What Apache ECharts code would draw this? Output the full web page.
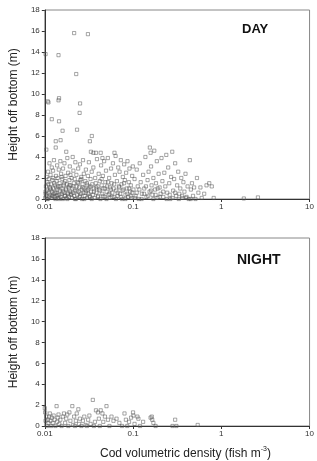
<!DOCTYPE html>
<html>
<head>
<meta charset="utf-8">
<script src="https://cdn.jsdelivr.net/npm/echarts@6/dist/echarts.min.js"></script>
<style>
  html, body { margin: 0; padding: 0; background: #fff; }
  #chart { width: 317px; height: 461px; }
</style>
</head>
<body>
<div id="chart"></div>
<script>
// density (fish m^-3), height off bottom (m)
const dayPoints = [
  [0.0102,13.8],[0.0108,9.3],[0.011,9.2],[0.0143,13.7],[0.0145,9.6],[0.0143,9.4],
  [0.0215,15.8],[0.0308,15.7],[0.0227,11.9],[0.0251,9.1],[0.0248,8.2],[0.012,7.6],
  [0.0145,7.4],[0.0159,6.5],[0.0232,6.6],[0.0341,6.0],[0.0324,5.5],[0.0133,5.5],
  [0.0151,5.6],[0.0133,4.9],[0.0104,4.7],[0.0175,4.5],[0.0333,4.5],[0.0355,4.4],
  [0.038,4.4],[0.043,4.4],[0.0616,4.4],[0.045,3.9],
  [0.0101,0.1],[0.0102,0.5],[0.0103,1.2],[0.0104,0.3],[0.0105,2.1],[0.0106,0.8],
  [0.0107,1.6],[0.0108,0.0],[0.0109,2.6],[0.011,0.6],[0.0111,1.9],[0.0112,0.2],
  [0.0113,3.4],[0.0114,1.1],[0.0115,0.4],[0.0116,2.3],[0.0117,0.9],[0.0118,1.4],
  [0.0119,0.1],[0.012,3.0],[0.0121,0.7],[0.0122,1.8],[0.0123,0.3],[0.0124,2.7],
  [0.0125,1.0],[0.0126,0.5],[0.0127,3.7],[0.0128,1.5],[0.0129,0.2],
  [0.0131,1.3],[0.0132,0.0],[0.0134,2.2],[0.0135,0.6],[0.0136,1.7],[0.0137,0.3],
  [0.0138,3.2],[0.0139,0.9],[0.014,2.0],[0.0141,0.1],[0.0142,1.2],[0.0144,2.8],
  [0.0146,0.4],[0.0147,1.5],[0.0148,0.8],[0.015,3.6],[0.0152,0.2],[0.0153,2.4],
  [0.0155,1.0],[0.0156,0.5],[0.0158,1.9],[0.016,0.0],[0.0161,2.9],[0.0163,1.3],
  [0.0165,0.6],[0.0167,3.4],[0.0169,0.3],[0.017,1.7],[0.0172,2.2],[0.0174,0.9],
  [0.0176,0.1],[0.0178,1.4],[0.018,3.9],[0.0182,0.5],[0.0184,2.5],[0.0186,1.1],
  [0.0188,0.2],[0.019,1.8],[0.0192,3.1],[0.0194,0.7],[0.0196,1.3],[0.0198,0.4],
  [0.0201,2.0],[0.0203,0.1],[0.0205,1.0],[0.0207,4.0],[0.0209,0.6],[0.0211,2.7],
  [0.0213,1.5],[0.0216,0.3],[0.0218,1.9],[0.022,0.8],[0.0222,3.5],[0.0225,0.0],
  [0.0228,2.3],[0.023,1.2],[0.0233,0.4],[0.0236,1.6],[0.0239,2.9],[0.0242,0.7],
  [0.0245,1.1],[0.0248,0.2],[0.025,3.3],[0.0253,1.8],[0.0256,0.5],[0.0259,2.1],
  [0.0262,0.9],[0.0265,0.0],[0.0268,1.4],[0.0271,3.7],[0.0274,0.6],[0.0277,2.4],
  [0.028,1.0],[0.0284,0.3],[0.0288,1.7],[0.0292,2.8],[0.0296,0.8],[0.03,0.1],
  [0.0304,1.3],[0.0308,2.2],[0.0312,0.5],[0.0316,3.5],[0.032,1.1],[0.0325,0.2],
  [0.033,1.9],[0.0335,0.7],[0.034,2.6],[0.0345,1.4],
  [0.035,0.4],[0.0355,3.0],[0.036,1.0],[0.0366,0.1],[0.0372,2.0],[0.0378,1.5],
  [0.0384,0.6],[0.039,3.8],[0.0396,1.2],[0.0402,0.3],[0.0408,2.4],[0.0414,0.9],
  [0.042,1.7],[0.0427,0.0],[0.0434,3.2],[0.0441,1.3],[0.0448,0.5],[0.0455,2.2],
  [0.0462,1.0],[0.047,3.6],[0.0478,0.2],[0.0486,1.6],[0.0494,2.7],[0.0502,0.7],
  [0.051,1.2],[0.0518,3.9],[0.0527,0.4],[0.0536,2.0],[0.0545,1.1],[0.0554,0.1],
  [0.0563,2.9],[0.0572,1.5],[0.0582,0.6],[0.0592,3.4],
  [0.0602,1.0],[0.0612,0.2],[0.0623,2.3],[0.0634,4.1],[0.0645,0.8],[0.0656,1.7],
  [0.0667,0.3],[0.0679,3.0],[0.0691,1.2],[0.0703,2.6],[0.0715,0.5],[0.0727,3.7],
  [0.074,1.4],[0.0753,0.0],[0.0766,2.1],[0.0779,0.9],[0.0793,3.3],[0.0807,1.8],
  [0.0821,0.4],[0.0835,2.5],[0.085,1.0],[0.0865,3.6],[0.088,0.2],[0.0895,1.6],
  [0.0911,2.9],[0.0927,0.7],[0.0943,1.3],[0.096,0.1],[0.0977,2.2],[0.0994,3.1],
  [0.101,0.9],[0.104,1.9],[0.107,0.3],[0.11,2.8],[0.113,1.2],[0.116,0.0],
  [0.119,3.4],[0.122,1.6],[0.126,0.5],[0.13,2.3],[0.134,1.0],[0.138,4.0],
  [0.142,0.2],[0.146,1.8],[0.15,2.6],[0.154,0.7],[0.155,4.9],[0.158,4.4],
  [0.16,3.1],[0.162,1.3],[0.166,0.4],[0.17,2.0],[0.174,4.6],[0.178,0.9],
  [0.182,1.5],[0.186,3.6],[0.19,0.1],[0.195,2.4],[0.2,1.1],
  [0.205,0.5],[0.21,3.9],[0.215,1.7],[0.22,0.2],[0.226,2.5],[0.232,1.2],
  [0.238,4.2],[0.244,0.6],[0.25,3.0],[0.257,1.5],[0.264,0.0],[0.27,2.1],
  [0.278,4.5],[0.285,0.8],[0.292,1.9],[0.3,3.4],[0.308,0.3],[0.316,1.3],
  [0.325,2.6],[0.334,0.5],[0.343,1.0],[0.352,2.0],[0.362,0.1],[0.372,1.6],
  [0.382,0.7],[0.393,2.4],[0.404,0.2],[0.415,1.2],[0.427,0.0],[0.44,3.7],
  [0.452,0.9],[0.465,1.5],[0.478,0.3],[0.492,1.1],
  [0.51,0.0],[0.53,2.0],[0.55,0.6],[0.58,1.1],[0.6,0.1],[0.64,0.5],
  [0.68,1.3],[0.73,1.5],[0.78,1.2],[0.82,0.1],[1.8,0.05],[2.6,0.15],
  [0.0102,0.7],[0.0106,0.0],[0.011,1.4],[0.0115,1.0],[0.012,0.3],[0.0125,2.0],
  [0.013,0.6],[0.0135,1.1],[0.014,0.4],[0.0145,0.0],[0.015,1.2],[0.0155,2.1],
  [0.016,0.7],[0.0165,1.5],[0.017,0.3],[0.0175,1.0],[0.018,0.0],[0.0185,0.6],
  [0.019,1.3],[0.0195,2.3],[0.02,0.5],[0.021,1.2],[0.022,0.0],[0.023,0.8],
  [0.024,1.5],[0.025,0.3],[0.026,1.9],[0.027,1.1],[0.028,0.0],[0.029,0.6],
  [0.03,1.5],[0.031,0.9],[0.032,0.3],[0.033,1.2],[0.034,0.0],[0.036,0.7],
  [0.038,1.1],[0.04,0.2],[0.042,0.8],[0.044,1.9],[0.046,0.3],[0.048,1.0],
  [0.05,0.0],[0.052,1.6],[0.054,0.5],[0.056,0.9],[0.058,0.2],[0.061,1.4],
  [0.064,0.0],[0.067,0.6],[0.07,1.1],[0.073,0.2],[0.076,0.8],[0.079,1.5],
  [0.082,0.0],[0.086,0.5],[0.09,1.0],[0.094,0.3],[0.098,0.6],[0.105,0.1],
  [0.11,0.6],[0.118,0.9],[0.125,0.0],[0.133,0.5],[0.14,1.2],[0.148,0.3],
  [0.16,0.8],[0.17,0.0],[0.18,0.4],[0.19,1.0],[0.2,0.2],[0.22,0.7],
  [0.24,0.0],[0.26,0.4],[0.28,0.1],[0.3,0.6],[0.33,0.0],[0.36,0.3],
  [0.4,0.1],[0.45,0.0]
];

const nightPoints = [
  [0.01,1.7],[0.0101,1.3],[0.0102,0.5],[0.0104,0.9],[0.0106,0.0],[0.0108,0.6],
  [0.011,0.3],[0.0112,0.9],[0.0114,1.2],[0.0116,0.5],[0.0118,0.0],[0.012,0.8],
  [0.0123,0.3],[0.0126,1.0],[0.0129,0.6],[0.0132,0.0],[0.0136,1.9],[0.0138,0.4],
  [0.014,0.8],[0.0143,1.1],[0.0146,0.2],[0.015,0.6],[0.0155,0.0],[0.016,0.9],
  [0.0165,1.2],[0.017,0.3],[0.0175,0.7],[0.018,1.1],[0.0185,0.0],[0.019,1.3],
  [0.0195,0.5],[0.0205,1.9],[0.021,0.1],[0.0215,0.9],[0.022,0.0],[0.0225,0.5],
  [0.023,1.2],[0.024,1.6],[0.0245,0.2],[0.025,0.7],[0.026,0.0],[0.027,0.5],
  [0.028,0.9],[0.029,0.1],[0.03,0.0],[0.031,0.6],[0.032,1.0],[0.033,0.2],
  [0.035,2.5],[0.036,0.0],[0.037,0.4],[0.038,1.5],[0.04,1.3],[0.041,0.7],
  [0.042,0.0],[0.043,1.5],[0.045,1.2],[0.046,0.4],[0.048,0.9],[0.05,1.9],
  [0.052,0.6],[0.054,0.0],[0.057,0.9],[0.06,0.5],[0.065,0.7],[0.07,0.3],
  [0.075,0.0],[0.08,1.2],[0.083,0.6],[0.086,0.0],[0.09,0.4],[0.095,0.8],
  [0.1,1.3],[0.101,1.0],[0.104,0.2],[0.112,0.9],[0.115,0.7],[0.12,0.0],
  [0.13,0.4],[0.158,0.8],[0.163,0.9],[0.165,0.6],[0.17,0.3],[0.18,0.0],
  [0.28,0.0],[0.3,0.6],[0.31,0.0],[0.54,0.1]
];

const xTicks = [0.01, 0.1, 1, 10];
const yName = "Height off bottom (m)";
const xName = "Cod volumetric density (fish m";
const panelLabels = ["DAY", "NIGHT"];

const font = "Liberation Sans, Arial, sans-serif";
const axisColor = "#333";

function xAxisFor(gridIndex) {
  return {
    type: "log",
    logBase: 10,
    gridIndex: gridIndex,
    min: xTicks[0],
    max: xTicks[xTicks.length - 1],
    axisLine: { lineStyle: { color: axisColor, width: 1 } },
    axisTick: { show: true, length: 3, lineStyle: { color: axisColor } },
    minorTick: { show: false },
    splitLine: { show: false },
    axisLabel: {
      color: axisColor,
      fontSize: 8,
      fontFamily: font,
      margin: 4,
      formatter: (v) => String(+Number(v).toPrecision(2)),
    },
  };
}

function yAxisFor(gridIndex) {
  return {
    type: "value",
    gridIndex: gridIndex,
    min: 0,
    max: 18,
    interval: 2,
    name: yName,
    nameLocation: "middle",
    nameGap: 19,
    nameTextStyle: { color: "#222", fontSize: 12, fontFamily: font },
    axisLine: { show: true, lineStyle: { color: axisColor, width: 1 } },
    axisTick: { show: true, length: 3, lineStyle: { color: axisColor } },
    splitLine: { show: false },
    axisLabel: { color: axisColor, fontSize: 8, fontFamily: font, margin: 5 },
  };
}

const markerStyle = {
  color: "rgba(255,255,255,0)",
  borderColor: "#555",
  borderWidth: 0.65,
};

const chart = echarts.init(document.getElementById("chart"), null, { renderer: "canvas" });
chart.setOption({
  animation: false,
  backgroundColor: "#fff",
  grid: [
    { left: 40, right: 6, top: 10, height: 189, show: true, borderColor: "#888", borderWidth: 1 },
    { left: 43, right: 4, top: 238, height: 188, show: true, borderColor: "#888", borderWidth: 1 },
  ],
  title: [
    { text: panelLabels[0], left: 237, top: 18, textStyle: { fontSize: 13, fontWeight: "bold", color: "#111", fontFamily: font } },
    { text: panelLabels[1], left: 232, top: 248, textStyle: { fontSize: 14, fontWeight: "bold", color: "#111", fontFamily: font } },
    {
      text: "{a|" + xName + "}{b|-3}{a|)}",
      left: 95,
      top: 441,
      textStyle: {
        fontWeight: "normal",
        rich: {
          a: { fontSize: 12, fontWeight: "normal", color: "#222", fontFamily: font },
          b: { fontSize: 7, fontWeight: "normal", color: "#222", fontFamily: font, verticalAlign: "top", padding: [0, 0, 8, 0] },
        },
      },
    },
  ],
  xAxis: [xAxisFor(0), xAxisFor(1)],
  yAxis: [yAxisFor(0), yAxisFor(1)],
  series: [
    {
      name: panelLabels[0],
      type: "scatter",
      xAxisIndex: 0,
      yAxisIndex: 0,
      data: dayPoints,
      symbol: "rect",
      symbolSize: 3.2,
      itemStyle: markerStyle,
    },
    {
      name: panelLabels[1],
      type: "scatter",
      xAxisIndex: 1,
      yAxisIndex: 1,
      data: nightPoints,
      symbol: "rect",
      symbolSize: 3.2,
      itemStyle: markerStyle,
    },
  ],
});
</script>
</body>
</html>
